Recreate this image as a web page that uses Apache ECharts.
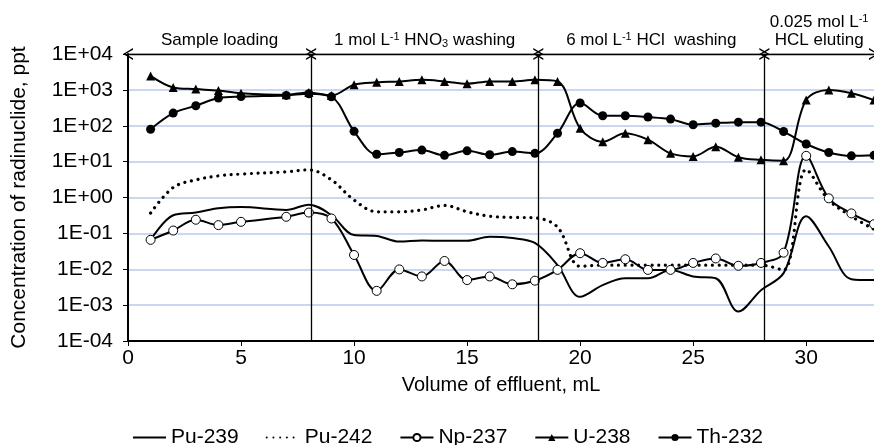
<!DOCTYPE html>
<html>
<head>
<meta charset="utf-8">
<script src="https://cdn.jsdelivr.net/npm/echarts@6/dist/echarts.min.js"></script>
<style>
html,body{margin:0;padding:0;background:#fff;}
#c{width:874px;height:445px;}
</style>
</head>
<body>
<div id="c"></div>
<script>
const volumes = [1,2,3,4,5,7,8,9,10,11,12,13,14,15,16,17,18,19,20,21,22,23,24,25,26,27,28,29,30,31,32,33];
const pu239 = [0.066,0.32,0.38,0.5,0.54,0.45,0.63,0.32,0.09,0.085,0.059,0.063,0.062,0.062,0.08,0.074,0.054,0.013,0.0017,0.0036,0.0056,0.0056,0.0096,0.0063,0.0056,0.00066,0.0026,0.0078,0.3,0.043,0.0053,0.005];
const pu242 = [0.37,1.9,3.1,4.0,4.5,5.2,5.9,3.1,0.85,0.4,0.4,0.45,0.6,0.4,0.3,0.28,0.27,0.15,0.012,0.013,0.013,0.013,0.013,0.013,0.013,0.013,0.013,0.0095,6,0.85,0.3,0.13];
const np237 = [0.066,0.12,0.24,0.17,0.21,0.29,0.38,0.26,0.025,0.0025,0.0099,0.0063,0.017,0.005,0.0063,0.0038,0.0048,0.0096,0.028,0.015,0.019,0.0096,0.0096,0.015,0.02,0.0125,0.015,0.029,14.5,0.95,0.36,0.18];
const u238 = [2450,1170,1050,955,810,730,850,700,1390,1620,1720,1900,1720,1480,1720,1720,1900,1720,85,36,62,41,17,14,26,13.3,11.2,10.5,520,1000,810,520];
const th232 = [80,225,360,590,650,700,780,640,70,16,18,21,15,20,15.5,19,17,62,430,190,190,175,153,107,118,126,126,69,31,18,14.5,15];
const seriesNames = ['Pu-239','Pu-242','Np-237','U-238','Th-232'];
const phaseBounds = [0, 8.1, 18.15, 28.15, 33];
const phaseLabels = ['Sample loading', '1 mol L{sup|-1} HNO{sub|3} washing', '6 mol L{sup|-1} HCl  washing', '0.025 mol L{sup|-1}\nHCL eluting'];
const yTop = 1e4, yBottom = 1e-4;

const FONT = '"Liberation Sans", Arial, sans-serif';
const pair = arr => volumes.map((x, i) => [x, arr[i]]);
const chevron = 'path://M0,20 L5,0 L10,20 L8.6,20 L5,5 L1.4,20 Z';

const segs = [];
for (let i = 0; i < phaseBounds.length - 1; i++) {
  segs.push([
    {coord: [phaseBounds[i], yTop], label: {show: true, formatter: phaseLabels[i]}},
    {coord: [phaseBounds[i + 1], yTop]}
  ]);
}
const verts = phaseBounds.slice(1, -1).map(b => [{coord: [b, yTop]}, {coord: [b, yBottom]}]);

const chart = echarts.init(document.getElementById('c'));
chart.setOption({
  animation: false,
  backgroundColor: '#fff',
  textStyle: {fontFamily: FONT, color: '#000'},
  grid: {left: 128, top: 54, width: 748, height: 287},
  xAxis: {
    type: 'value', min: 0, max: 33, interval: 5,
    name: 'Volume of effluent, mL', nameLocation: 'middle', nameGap: 34,
    nameTextStyle: {fontSize: 20, color: '#000', fontFamily: FONT},
    axisLine: {lineStyle: {color: '#000', width: 2}},
    axisTick: {lineStyle: {color: '#000', width: 1}, length: 5},
    axisLabel: {fontSize: 21, color: '#000', margin: 7, fontFamily: FONT, showMaxLabel: false},
    splitLine: {show: false}
  },
  yAxis: {
    type: 'log', logBase: 10, min: yBottom, max: yTop, splitNumber: 8,
    name: 'Concentration of radinuclide, ppt', nameLocation: 'middle', nameGap: 98,
    nameTextStyle: {fontSize: 21, color: '#000', fontFamily: FONT},
    axisLine: {show: true, lineStyle: {color: '#000', width: 2}},
    axisTick: {show: true, lineStyle: {color: '#000', width: 1}, length: 5},
    axisLabel: {
      fontSize: 21, color: '#000', margin: 15, fontFamily: FONT,
      formatter: v => {
        const e = Math.round(Math.log10(v));
        return '1E' + (e >= 0 ? '+' : '-') + String(Math.abs(e)).padStart(2, '0');
      }
    },
    splitLine: {show: true, lineStyle: {color: '#c9d8ee', width: 2}}
  },
  legend: {
    data: [
      {name: 'Pu-239', itemStyle: {opacity: 0}},
      {name: 'Pu-242', itemStyle: {opacity: 0}},
      {name: 'Np-237'},
      {name: 'U-238'},
      {name: 'Th-232'}
    ],
    left: 127, top: 422,
    itemWidth: 33, itemHeight: 9, itemGap: 27,
    textStyle: {fontSize: 21, color: '#000', fontFamily: FONT}
  },
  series: [
    {name: seriesNames[0], type: 'line', data: pair(pu239), smooth: 0.35, showSymbol: false, symbol: 'none',
     lineStyle: {color: '#000', width: 2}, itemStyle: {color: '#000'}, z: 3},
    {name: seriesNames[1], type: 'line', data: pair(pu242), smooth: 0.35, showSymbol: false, symbol: 'none',
     lineStyle: {color: '#000', width: 3.2, type: [0.01, 6.7], cap: 'round'}, itemStyle: {color: '#000'}, z: 3},
    {name: seriesNames[2], type: 'line', data: pair(np237), smooth: 0.35, symbol: 'circle', symbolSize: 9,
     lineStyle: {color: '#000', width: 2}, itemStyle: {color: '#fff', borderColor: '#000', borderWidth: 1}, z: 4},
    {name: seriesNames[3], type: 'line', data: pair(u238), smooth: 0.35, symbol: 'triangle', symbolSize: 9,
     lineStyle: {color: '#000', width: 2}, itemStyle: {color: '#000'}, z: 4},
    {name: seriesNames[4], type: 'line', data: pair(th232), smooth: 0.35, symbol: 'circle', symbolSize: 9,
     lineStyle: {color: '#000', width: 2}, itemStyle: {color: '#000'}, z: 4},
    {name: 'phases', type: 'line', data: [], z: 5,
     markLine: {
       silent: true, animation: false,
       symbol: [chevron, chevron], symbolSize: [12, 10],
       lineStyle: {color: '#000', width: 1.3, type: 'solid'},
       label: {
         show: true, position: 'insideMiddleTop', distance: 5,
         color: '#000', fontSize: 17, fontFamily: FONT, lineHeight: 18, align: 'center',
         rich: {
           sup: {fontSize: 11, lineHeight: 11, verticalAlign: 'top', fontFamily: FONT, color: '#000'},
           sub: {fontSize: 11, lineHeight: 11, verticalAlign: 'bottom', fontFamily: FONT, color: '#000'}
         }
       },
       data: segs
     }},
    {name: 'bounds', type: 'line', data: [], z: 5,
     markLine: {
       silent: true, animation: false, symbol: ['none', 'none'],
       lineStyle: {color: '#000', width: 1.3, type: 'solid'},
       label: {show: false},
       data: verts
     }}
  ]
});
</script>
</body>
</html>
